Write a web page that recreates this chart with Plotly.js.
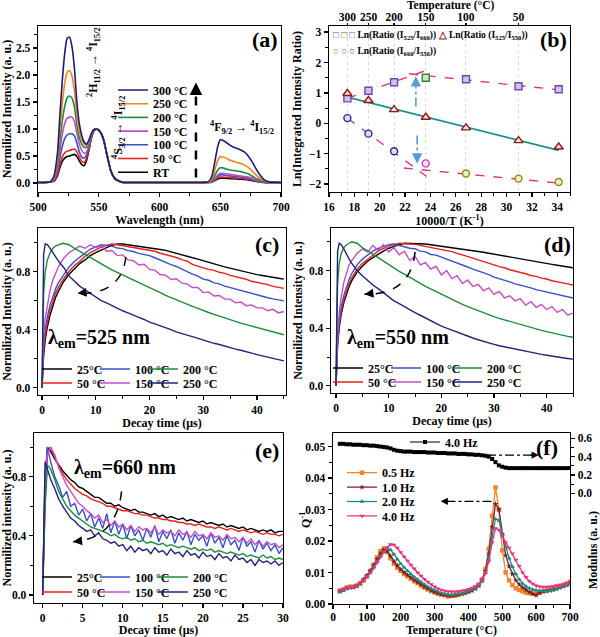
<!DOCTYPE html>
<html><head><meta charset="utf-8">
<script src="https://cdn.plot.ly/plotly-3.0.1.min.js"></script>
<style>body{margin:0;background:#fff}#g{width:600px;height:637px}</style>
</head><body><div id="g"></div>
<script>
// ---------- DATA ----------
// (a) emission spectra
const wl = [500,505,510,513,516,518,520,522,524,526,528,530,532,534,536,538,540,542,544,546,548,550,552,554,556,558,560,563,566,570,580,600,620,635,640,643,646,648,650,652,655,658,661,664,667,670,673,676,679,682,686,690,700];
const spec300 = [0.01,0.01,0.02,0.12,0.55,1.25,1.90,2.40,2.68,2.70,2.52,2.12,1.50,1.10,0.88,0.76,0.72,0.80,0.92,0.99,1.00,0.98,0.92,0.80,0.60,0.40,0.22,0.09,0.04,0.01,0.01,0.01,0.01,0.01,0.02,0.12,0.45,0.68,0.80,0.79,0.75,0.70,0.66,0.64,0.61,0.57,0.50,0.40,0.28,0.17,0.06,0.02,0.01];
const spec250 = [0.01,0.01,0.02,0.10,0.45,0.98,1.48,1.85,2.05,2.08,1.98,1.70,1.25,0.95,0.80,0.72,0.70,0.79,0.92,0.99,1.00,0.98,0.92,0.80,0.60,0.40,0.22,0.09,0.04,0.01,0.01,0.01,0.01,0.01,0.01,0.07,0.28,0.42,0.49,0.48,0.46,0.42,0.40,0.38,0.36,0.33,0.29,0.23,0.16,0.10,0.04,0.01,0.01];
const spec200 = [0.01,0.01,0.02,0.08,0.36,0.78,1.15,1.42,1.58,1.61,1.57,1.40,1.08,0.84,0.72,0.66,0.66,0.76,0.90,0.98,1.00,0.98,0.92,0.80,0.60,0.40,0.22,0.09,0.04,0.01,0.01,0.01,0.01,0.01,0.01,0.04,0.16,0.24,0.28,0.28,0.26,0.24,0.23,0.22,0.21,0.19,0.17,0.13,0.09,0.06,0.02,0.01,0.01];
const spec150 = [0.01,0.01,0.02,0.06,0.28,0.60,0.90,1.10,1.20,1.22,1.22,1.14,0.92,0.72,0.60,0.55,0.58,0.72,0.88,0.97,1.00,0.98,0.92,0.80,0.60,0.40,0.22,0.09,0.04,0.01,0.01,0.01,0.01,0.01,0.01,0.03,0.10,0.15,0.18,0.18,0.17,0.16,0.15,0.14,0.13,0.12,0.11,0.09,0.06,0.04,0.02,0.01,0.01];
const spec100 = [0.01,0.01,0.02,0.05,0.22,0.46,0.68,0.82,0.89,0.91,0.91,0.87,0.74,0.58,0.48,0.46,0.52,0.68,0.86,0.96,1.00,0.98,0.92,0.80,0.60,0.40,0.22,0.09,0.04,0.01,0.01,0.01,0.01,0.01,0.01,0.02,0.08,0.12,0.15,0.15,0.14,0.13,0.12,0.115,0.11,0.10,0.09,0.07,0.05,0.03,0.015,0.01,0.01];
const spec50 = [0.01,0.01,0.02,0.04,0.16,0.34,0.48,0.56,0.59,0.60,0.62,0.63,0.58,0.48,0.40,0.38,0.46,0.64,0.84,0.96,1.00,0.98,0.92,0.80,0.60,0.40,0.22,0.09,0.04,0.01,0.01,0.01,0.01,0.01,0.01,0.02,0.06,0.09,0.11,0.11,0.105,0.10,0.095,0.09,0.085,0.08,0.07,0.055,0.04,0.025,0.01,0.005,0.01];
const specRT = [0.01,0.01,0.02,0.03,0.13,0.28,0.40,0.46,0.49,0.50,0.52,0.53,0.49,0.41,0.34,0.32,0.42,0.62,0.83,0.96,1.00,0.98,0.92,0.80,0.60,0.40,0.22,0.09,0.04,0.01,0.01,0.01,0.01,0.01,0.01,0.015,0.05,0.075,0.09,0.09,0.085,0.08,0.078,0.075,0.07,0.065,0.058,0.045,0.032,0.02,0.01,0.005,0.01];
const specLabels = ['300 °C','250 °C','200 °C','150 °C','100 °C','50 °C','RT'];

// (b) intensity ratios
const bInvT = [17.45,19.11,21.13,23.63,26.80,30.94,34.11];
const bTempTicks = [300,250,200,150,100,50];
const bLn525_660 = [0.82,1.07,1.35,1.50,1.45,1.22,1.12];
const bLn525_550 = [0.98,0.75,0.45,0.20,-0.15,-0.57,-0.78];
const bLn660_550 = [0.17,-0.34,-0.92,-1.32,-1.65,-1.82,-1.93];
const bFitLinX = [17.45,34.11], bFitLinY = [0.86,-0.89];
const bFitUpLX = [17.45,23.6],  bFitUpLY = [0.82,1.73];
const bFitUpRX = [22.3,34.11],  bFitUpRY = [1.63,1.10];
const bFitLoLX = [17.45,23.7],  bFitLoLY = [0.17,-1.75];
const bFitLoRX = [21.9,34.11],  bFitLoRY = [-1.47,-1.97];

// (c),(d) decay curves
const tc = [0,0.3,0.6,1,1.5,2,2.5,3,3.5,4,5,6,7,8,9,10,11,12,13,14,15,16,17,18,19,20,21,22,23,24,25,26,27,28,29,30,31,32,33,34,35,36,37,38,39,40,41,42,43,44,45];
const c25 = [0,0.22,0.33,0.42,0.50,0.57,0.62,0.66,0.70,0.73,0.78,0.82,0.855,0.88,0.91,0.93,0.95,0.965,0.98,0.99,0.99,0.985,0.98,0.975,0.972,0.965,0.96,0.952,0.946,0.935,0.928,0.916,0.907,0.895,0.886,0.874,0.863,0.853,0.843,0.832,0.823,0.812,0.804,0.795,0.788,0.779,0.773,0.765,0.76,0.754,0.748];
const c50 = [0,0.27,0.36,0.45,0.53,0.60,0.65,0.69,0.72,0.75,0.80,0.84,0.87,0.905,0.93,0.95,0.968,0.98,0.99,0.985,0.978,0.972,0.968,0.958,0.953,0.945,0.94,0.926,0.918,0.905,0.897,0.882,0.872,0.85,0.835,0.825,0.815,0.808,0.795,0.788,0.774,0.766,0.753,0.747,0.733,0.726,0.714,0.71,0.698,0.692,0.684];
const c100 = [0,0.30,0.40,0.49,0.57,0.63,0.68,0.72,0.75,0.78,0.83,0.87,0.90,0.93,0.955,0.97,0.985,0.98,0.975,0.962,0.958,0.944,0.938,0.925,0.918,0.91,0.895,0.878,0.866,0.848,0.835,0.815,0.80,0.782,0.768,0.748,0.74,0.722,0.715,0.70,0.69,0.676,0.668,0.655,0.648,0.636,0.628,0.62,0.612,0.606,0.598];
const c150 = [0,0.35,0.48,0.58,0.67,0.74,0.79,0.83,0.86,0.89,0.93,0.95,0.975,0.96,0.985,0.965,0.975,0.94,0.945,0.91,0.915,0.88,0.875,0.845,0.85,0.815,0.81,0.78,0.775,0.745,0.75,0.72,0.715,0.69,0.69,0.655,0.66,0.632,0.635,0.61,0.61,0.585,0.59,0.565,0.57,0.55,0.55,0.53,0.54,0.515,0.525];
const c200 = [0,0.65,0.80,0.88,0.93,0.96,0.975,0.985,0.99,0.995,0.985,0.962,0.94,0.915,0.895,0.872,0.852,0.832,0.812,0.795,0.778,0.762,0.745,0.728,0.708,0.69,0.672,0.655,0.636,0.62,0.604,0.59,0.574,0.56,0.546,0.53,0.518,0.505,0.492,0.48,0.467,0.455,0.445,0.435,0.425,0.415,0.405,0.395,0.385,0.375,0.365];
const c250 = [0,0.92,0.99,0.985,0.96,0.93,0.90,0.875,0.85,0.83,0.77,0.735,0.70,0.675,0.65,0.625,0.60,0.585,0.565,0.548,0.53,0.515,0.498,0.485,0.47,0.452,0.44,0.428,0.412,0.40,0.385,0.376,0.362,0.352,0.34,0.328,0.318,0.306,0.298,0.286,0.278,0.266,0.258,0.246,0.238,0.228,0.22,0.21,0.20,0.192,0.185];
const d25 = [0,0.28,0.40,0.50,0.58,0.64,0.69,0.73,0.76,0.79,0.83,0.865,0.89,0.915,0.935,0.955,0.97,0.98,0.99,0.99,0.99,0.988,0.985,0.98,0.975,0.97,0.967,0.962,0.957,0.952,0.946,0.94,0.934,0.928,0.921,0.914,0.908,0.901,0.895,0.889,0.882,0.876,0.869,0.862,0.856,0.849,0.843,0.837,0.831,0.825,0.82];
const d50 = [0,0.30,0.42,0.52,0.60,0.66,0.71,0.75,0.78,0.81,0.85,0.88,0.91,0.935,0.955,0.97,0.98,0.99,0.99,0.985,0.982,0.975,0.97,0.965,0.958,0.95,0.94,0.932,0.92,0.91,0.898,0.887,0.874,0.864,0.85,0.84,0.828,0.82,0.806,0.798,0.786,0.778,0.766,0.76,0.748,0.742,0.73,0.724,0.714,0.708,0.70];
const d100 = [0,0.32,0.45,0.55,0.63,0.69,0.74,0.78,0.81,0.84,0.88,0.91,0.935,0.955,0.97,0.98,0.985,0.975,0.97,0.955,0.952,0.935,0.93,0.912,0.908,0.895,0.88,0.868,0.852,0.84,0.825,0.81,0.798,0.782,0.772,0.755,0.745,0.73,0.722,0.708,0.70,0.688,0.68,0.668,0.66,0.65,0.642,0.632,0.625,0.615,0.61];
const d150 = [0,0.36,0.50,0.62,0.72,0.79,0.84,0.87,0.90,0.92,0.95,0.93,0.975,0.94,0.98,0.93,0.96,0.91,0.935,0.87,0.90,0.84,0.855,0.81,0.83,0.77,0.80,0.745,0.765,0.71,0.735,0.69,0.705,0.66,0.68,0.635,0.655,0.61,0.625,0.59,0.605,0.56,0.585,0.545,0.565,0.53,0.55,0.51,0.53,0.49,0.505];
const d200 = [0,0.70,0.85,0.92,0.96,0.98,0.99,1.0,0.995,0.99,0.96,0.94,0.915,0.89,0.865,0.84,0.818,0.795,0.775,0.752,0.732,0.712,0.69,0.672,0.652,0.632,0.615,0.598,0.582,0.565,0.55,0.535,0.52,0.505,0.492,0.48,0.468,0.457,0.447,0.437,0.427,0.416,0.405,0.395,0.385,0.376,0.367,0.358,0.35,0.343,0.337];
const d250 = [0,0.93,0.99,0.98,0.95,0.91,0.88,0.85,0.82,0.80,0.765,0.73,0.70,0.675,0.645,0.615,0.59,0.57,0.548,0.528,0.508,0.49,0.47,0.452,0.435,0.415,0.40,0.386,0.37,0.356,0.343,0.332,0.32,0.308,0.298,0.288,0.278,0.27,0.262,0.254,0.246,0.238,0.232,0.225,0.218,0.212,0.205,0.20,0.195,0.19,0.185];

// (e) decay at 660 nm
const te = [0,0.3,0.6,1,1.5,2,2.5,3,3.5,4,4.5,5,5.5,6,6.5,7,7.5,8,8.5,9,9.5,10,10.5,11,11.5,12,12.5,13,13.5,14,14.5,15,15.5,16,16.5,17,17.5,18,18.5,19,19.5,20,20.5,21,21.5,22,22.5,23,23.5,24,24.5,25,25.5,26,26.5,27,27.5,28,28.5,29,29.5,30];
const e25 = [0,0.75,1.0,0.97,0.92,0.88,0.84,0.81,0.78,0.76,0.73,0.72,0.70,0.68,0.66,0.66,0.64,0.62,0.62,0.60,0.61,0.59,0.58,0.57,0.58,0.56,0.56,0.55,0.54,0.55,0.53,0.54,0.52,0.53,0.52,0.51,0.52,0.50,0.51,0.50,0.49,0.50,0.48,0.49,0.48,0.47,0.48,0.46,0.47,0.46,0.45,0.46,0.44,0.45,0.44,0.43,0.44,0.43,0.44,0.42,0.43,0.43];
const e50 = [0,0.60,0.95,1.0,0.93,0.87,0.82,0.78,0.75,0.72,0.70,0.68,0.67,0.65,0.64,0.63,0.62,0.60,0.60,0.59,0.58,0.57,0.57,0.56,0.55,0.55,0.54,0.54,0.53,0.52,0.52,0.51,0.51,0.50,0.50,0.49,0.49,0.48,0.48,0.47,0.48,0.47,0.46,0.46,0.45,0.46,0.45,0.44,0.45,0.44,0.43,0.44,0.43,0.42,0.43,0.42,0.41,0.42,0.41,0.41,0.40,0.41];
const e100 = [0,0.80,1.0,0.90,0.80,0.74,0.66,0.70,0.60,0.62,0.54,0.58,0.50,0.55,0.46,0.52,0.45,0.55,0.42,0.50,0.41,0.48,0.38,0.47,0.40,0.44,0.37,0.45,0.39,0.47,0.36,0.43,0.38,0.44,0.35,0.42,0.37,0.43,0.34,0.41,0.37,0.40,0.33,0.42,0.35,0.39,0.32,0.40,0.34,0.37,0.30,0.39,0.33,0.36,0.29,0.37,0.31,0.35,0.30,0.34,0.28,0.32];
const e150 = [0,0.70,0.95,1.0,0.95,0.86,0.80,0.74,0.70,0.66,0.62,0.60,0.57,0.55,0.52,0.54,0.49,0.51,0.47,0.50,0.46,0.48,0.44,0.47,0.43,0.46,0.44,0.45,0.42,0.46,0.41,0.44,0.42,0.43,0.40,0.44,0.41,0.42,0.39,0.43,0.40,0.41,0.38,0.42,0.39,0.40,0.37,0.41,0.38,0.39,0.36,0.39,0.35,0.38,0.34,0.37,0.33,0.36,0.34,0.35,0.32,0.34];
const e200 = [0,0.60,0.88,0.85,0.78,0.70,0.65,0.60,0.57,0.54,0.52,0.50,0.48,0.46,0.45,0.44,0.43,0.42,0.40,0.41,0.39,0.38,0.39,0.37,0.38,0.36,0.37,0.35,0.36,0.35,0.34,0.35,0.33,0.34,0.33,0.32,0.33,0.32,0.31,0.32,0.30,0.31,0.30,0.31,0.29,0.30,0.29,0.28,0.29,0.28,0.27,0.28,0.26,0.27,0.26,0.25,0.27,0.25,0.26,0.24,0.25,0.24];
const e250 = [0,0.90,0.85,0.78,0.72,0.65,0.60,0.56,0.52,0.50,0.47,0.45,0.43,0.44,0.40,0.42,0.38,0.37,0.35,0.36,0.33,0.34,0.30,0.33,0.29,0.32,0.30,0.31,0.28,0.32,0.29,0.30,0.27,0.31,0.28,0.29,0.26,0.30,0.27,0.28,0.25,0.29,0.26,0.27,0.24,0.28,0.25,0.26,0.23,0.27,0.24,0.25,0.22,0.24,0.20,0.24,0.22,0.23,0.21,0.23,0.20,0.22];
const decayLabels = ['25°C','50 °C','100 °C','150 °C','200 °C','250 °C'];

// (f) internal friction
const fT = [20,30,40,50,60,70,80,90,100,110,120,130,140,150,160,170,180,190,200,210,220,230,240,250,260,270,280,290,300,310,320,330,340,350,360,370,380,390,400,410,420,430,440,450,460,470,480,490,500,510,520,530,540,550,560,570,580,590,600,610,620,630,640,650,660,670,680,690,700];
const fQ05 = [.0042,.0045,.0052,.0055,.0055,.0058,.0065,.0075,.0088,.0105,.0125,.0148,.0168,.0176,.0165,.0145,.0128,.0115,.0105,.0095,.0088,.0080,.0072,.0066,.0058,.0052,.0046,.0041,.0037,.0033,.0030,.0028,.0024,.0026,.0027,.0030,.0033,.0036,.0040,.0044,.0050,.0060,.0078,.0110,.0175,.0280,.0370,.0300,.0170,.0100,.0075,.0060,.0050,.0045,.0040,.0036,.0034,.0033,.0035,.0036,.0040,.0042,.0045,.0050,.0055,.0058,.0060,.0065,.0070];
const fQ10 = [.0040,.0045,.0050,.0052,.0053,.0058,.0066,.0078,.0090,.0105,.0122,.0142,.0160,.0172,.0168,.0152,.0135,.0122,.0110,.0100,.0092,.0084,.0076,.0069,.0062,.0055,.0049,.0043,.0038,.0034,.0031,.0029,.0027,.0026,.0027,.0029,.0032,.0035,.0039,.0043,.0049,.0058,.0075,.0105,.0160,.0245,.0318,.0300,.0220,.0155,.0120,.0095,.0075,.0062,.0052,.0045,.0038,.0032,.0028,.0035,.0040,.0042,.0043,.0045,.0048,.0052,.0056,.0060,.0064];
const fQ20 = [.0038,.0043,.0048,.0051,.0052,.0056,.0064,.0075,.0087,.0101,.0117,.0135,.0152,.0166,.0176,.0172,.0158,.0142,.0128,.0116,.0105,.0095,.0086,.0078,.0070,.0062,.0055,.0049,.0044,.0039,.0035,.0032,.0030,.0029,.0030,.0032,.0034,.0037,.0041,.0045,.0050,.0058,.0072,.0098,.0145,.0215,.0270,.0265,.0225,.0180,.0145,.0118,.0095,.0078,.0065,.0056,.0050,.0046,.0044,.0042,.0041,.0041,.0042,.0044,.0047,.0052,.0056,.0060,.0064];
const fQ40 = [.0045,.0047,.0050,.0052,.0054,.0058,.0065,.0075,.0086,.0099,.0114,.0131,.0149,.0165,.0180,.0189,.0188,.0178,.0164,.0150,.0137,.0124,.0112,.0100,.0089,.0079,.0070,.0062,.0055,.0049,.0045,.0042,.0040,.0039,.0039,.0040,.0042,.0044,.0047,.0051,.0056,.0064,.0077,.0098,.0135,.0195,.0240,.0235,.0215,.0195,.0178,.0160,.0140,.0120,.0100,.0085,.0072,.0064,.0058,.0055,.0054,.0054,.0055,.0056,.0058,.0060,.0063,.0066,.0070];
const fMod = [.54,.54,.535,.535,.53,.53,.53,.525,.525,.52,.52,.515,.51,.505,.50,.49,.475,.465,.46,.455,.455,.455,.45,.45,.45,.45,.445,.445,.445,.44,.44,.44,.435,.435,.435,.43,.43,.43,.425,.425,.42,.42,.415,.41,.40,.375,.34,.305,.29,.28,.275,.275,.275,.275,.275,.275,.275,.275,.275,.275,.275,.275,.275,.275,.275,.275,.275,.275,.275];
const fLabels = ['0.5 Hz','1.0 Hz','2.0 Hz','4.0 Hz'];

// ---------- STYLE ----------
const F = 'Liberation Serif';
const W = 600, H = 637;
const px = p => p / W, py = p => 1 - p / H;
const font = (s) => ({family: F, size: s, weight: 'bold', color: '#000'});
function T(text, standoff) { return {text: text, font: font(12), standoff: standoff}; }
const mnr = (o) => Object.assign({ticks: 'outside', ticklen: 2.5, tickwidth: 1, tickcolor: '#000'}, o);
function ax(o) {
  return Object.assign({showline: true, linecolor: '#000', linewidth: 1.4, mirror: true,
    ticks: 'outside', ticklen: 4, tickwidth: 1.3, tickcolor: '#000', showgrid: false, zeroline: false,
    tickfont: font(11.5), automargin: false}, o);
}
const layout = {
  width: W, height: H, margin: {l: 0, r: 0, t: 0, b: 0}, paper_bgcolor: '#fff', plot_bgcolor: '#fff',
  font: {family: F, color: '#000'}, showlegend: true,
  xaxis: ax({domain: [px(38), px(281)], range: [500, 700], anchor: 'y', dtick: 50, minor: mnr({dtick: 25}), title: T('Wavelength (nm)', 2)}),
  yaxis: ax({domain: [py(192), py(26)], range: [-0.167, 2.907], anchor: 'x', dtick: 0.5, tickformat: '.1f', minor: mnr({dtick: 0.25}), title: T('Normilized Intensity (a. u.)', 3)}),
  xaxis2: ax({domain: [px(329), px(570)], range: [16, 35], anchor: 'y2', dtick: 2, minor: mnr({dtick: 1}), title: T('10000/T (K<sup>-1</sup>)', 2)}),
  yaxis2: ax({domain: [py(192), py(26)], range: [-2.26, 3.2], anchor: 'x2', dtick: 1, minor: mnr({dtick: 0.5}), title: T('Ln(Integrated Intensity Ratio)', 4)}),
  xaxis7: ax({overlaying: 'x2', anchor: 'y2', side: 'top', range: [16, 35], mirror: false, ticklen: 2, ticklabelstandoff: -3,
    tickmode: 'array', tickvals: bTempTicks.map(c => 10000 / (c + 273.15)), ticktext: bTempTicks.map(String),
    showgrid: true, gridcolor: '#d9d9d9', griddash: 'dot', gridwidth: 1}),
  xaxis3: ax({domain: [px(38), px(286)], range: [-0.75, 45.4], anchor: 'y3', dtick: 10, minor: mnr({dtick: 5}), title: T('Decay time (μs)', 2)}),
  yaxis3: ax({domain: [py(395), py(228)], range: [-0.05, 1.10], anchor: 'x3', dtick: 0.4, tickformat: '.1f', minor: mnr({dtick: 0.2}), title: T('Normilized Intensity (a. u.)', 3)}),
  xaxis4: ax({domain: [px(331), px(573)], range: [-0.95, 45], anchor: 'y4', dtick: 10, minor: mnr({dtick: 5}), title: T('Decay time (μs)', 2)}),
  yaxis4: ax({domain: [py(393), py(228)], range: [-0.05, 1.096], anchor: 'x4', dtick: 0.4, tickformat: '.1f', minor: mnr({dtick: 0.2}), title: T('Normilized Intensity (a. u.)', 3)}),
  xaxis5: ax({domain: [px(34), px(283)], range: [-1.08, 30], anchor: 'y5', dtick: 5, minor: mnr({dtick: 2.5}), title: T('Decay time (μs)', 2)}),
  yaxis5: ax({domain: [py(603), py(433)], range: [-0.054, 1.095], anchor: 'x5', dtick: 0.4, tickformat: '.1f', minor: mnr({dtick: 0.2}), title: T('Normilized intensity (a. u.)', 3)}),
  xaxis6: ax({domain: [px(333), px(570)], range: [0, 700], anchor: 'y6', dtick: 100, ticklabelstandoff: -2, minor: mnr({dtick: 50}), title: T('Temperature (°C)', 4)}),
  yaxis6: ax({domain: [py(604), py(433)], range: [0, 0.0543], anchor: 'x6', dtick: 0.01, tickformat: '.2f', mirror: false, minor: mnr({dtick: 0.005})}),
  yaxis8: ax({overlaying: 'y6', anchor: 'x6', side: 'right', range: [-1.207, 0.658], mirror: false,
    tickmode: 'array', tickvals: [0, 0.2, 0.4, 0.6], ticktext: ['0.0', '0.2', '0.4', '0.6'], minor: mnr({tickmode: 'array', tickvals: [0.1, 0.3, 0.5]})}),
  annotations: [], shapes: []
};

// legends: one per entry so spacing matches
let nLeg = 0;
function leg(textLeft, cy) {
  nLeg++;
  const key = nLeg === 1 ? 'legend' : 'legend' + nLeg;
  layout[key] = {x: px(textLeft - 40), xanchor: 'left', y: py(cy), yanchor: 'middle',
    bgcolor: 'rgba(0,0,0,0)', borderwidth: 0, font: font(12), itemclick: false, itemdoubleclick: false};
  return key;
}

const traces = [];
// (a)
const specSeries = [spec300, spec250, spec200, spec150, spec100, spec50, specRT];
const specColors = ['#1c1c78', '#f5821f', '#1a8a3a', '#c24ec2', '#3552c8', '#e32222', '#000000'];
for (let i = specSeries.length - 1; i >= 0; i--) {
  traces.push({type: 'scatter', mode: 'lines', x: wl, y: specSeries[i], xaxis: 'x', yaxis: 'y',
    name: specLabels[i], line: {color: specColors[i], width: 1.6, shape: 'spline', smoothing: 0.6},
    legend: leg(153, 90 + i * 13.7)});
}

// (b)
const bx = 'x2', by = 'y2';
// invisible trace so the top temperature axis is drawn
traces.push({type: 'scatter', mode: 'markers', x: bInvT, y: bLn525_550, xaxis: 'x7', yaxis: by, showlegend: false, marker: {opacity: 0}, hoverinfo: 'skip'});
function fit(x, y, color, dash, w) { traces.push({type: 'scatter', mode: 'lines', x: x, y: y, xaxis: bx, yaxis: by, showlegend: false, line: {color: color, dash: dash, width: w}}); }
fit(bFitLinX, bFitLinY, '#17918a', 'solid', 1.6);
fit(bFitUpLX, bFitUpLY, '#e0307a', 'dash', 1.4);
fit(bFitUpRX, bFitUpRY, '#e0307a', 'dash', 1.4);
fit(bFitLoLX, bFitLoLY, '#e0307a', 'dash', 1.4);
fit(bFitLoRX, bFitLoRY, '#e0307a', 'dash', 1.4);
traces.push({type: 'scatter', mode: 'markers', x: bInvT, y: bLn525_660, xaxis: bx, yaxis: by, showlegend: false,
  marker: {symbol: 'square', size: 7, color: ['#cfc3ec','#cfc3ec','#cfc3ec','#c8e6c8','#cfc3ec','#cfc3ec','#cfc3ec'],
    line: {width: 1.4, color: ['#6a4aaf','#6a4aaf','#6a4aaf','#2f8a2f','#6a4aaf','#6a4aaf','#6a4aaf']}}});
traces.push({type: 'scatter', mode: 'markers', x: bInvT, y: bLn525_550, xaxis: bx, yaxis: by, showlegend: false,
  marker: {symbol: 'triangle-up', size: 8, color: '#f4dede', line: {width: 1.4, color: '#8b1a1a'}}});
traces.push({type: 'scatter', mode: 'markers', x: bInvT, y: bLn660_550, xaxis: bx, yaxis: by, showlegend: false,
  marker: {symbol: 'circle', size: 7, color: ['#dcdcf0','#dcdcf0','#dcdcf0','#f6e0f6','#ececc8','#ececc8','#ececc8'],
    line: {width: 1.4, color: ['#2a2a8a','#2a2a8a','#2a2a8a','#c040c0','#8a8a1a','#8a8a1a','#8a8a1a']}}});

// decay panels
const decayColors = ['#000000', '#e8201c', '#3a50c8', '#c44ec4', '#1e8c3a', '#23237e'];
function decay(t, series, xa, ya, colsX, rowsY) {
  series.forEach((s, i) => {
    traces.push({type: 'scatter', mode: 'lines', x: t, y: s, xaxis: xa, yaxis: ya, name: decayLabels[i],
      line: {color: decayColors[i], width: 1.4}, legend: leg(colsX[Math.floor(i / 2)], rowsY[i % 2])});
  });
}
decay(tc, [c25, c50, c100, c150, c200, c250], 'x3', 'y3', [77, 135, 183], [369, 383]);
decay(tc, [d25, d50, d100, d150, d200, d250], 'x4', 'y4', [368, 426, 487], [368, 382]);
decay(te, [e25, e50, e100, e150, e200, e250], 'x5', 'y5', [77, 135, 193], [577, 592]);

// (f)
traces.push({type: 'scatter', mode: 'lines+markers', x: fT, y: fMod, xaxis: 'x6', yaxis: 'y8', name: '4.0 Hz',
  line: {color: '#000', width: 1.2}, marker: {symbol: 'square', size: 4, color: '#000'}, legend: leg(445, 442)});
const fSeries = [fQ05, fQ10, fQ20, fQ40];
const fColors = ['#f0842a', '#7a1f25', '#1e8a86', '#e8337e'];
const fSymbols = ['square', 'star', 'triangle-up', 'triangle-down'];
fSeries.forEach((s, i) => {
  traces.push({type: 'scatter', mode: 'lines+markers', x: fT, y: s, xaxis: 'x6', yaxis: 'y6', name: fLabels[i],
    line: {color: fColors[i], width: 1.3}, marker: {symbol: fSymbols[i], size: 4.5, color: fColors[i]},
    legend: leg(382, 472.7 + i * 14.4)});
});

// ---------- ANNOTATIONS / SHAPES ----------
const A = layout.annotations, S = layout.shapes;
function lab(t, x, y, s, ang) {
  A.push({text: t, xref: 'paper', yref: 'paper', x: px(x), y: py(y), showarrow: false, font: font(s),
    xanchor: 'center', yanchor: 'middle', textangle: ang || 0});
}
lab('(a)', 265, 40, 22); lab('(b)', 553, 40, 22); lab('(c)', 267, 245, 22);
lab('(d)', 557, 245, 22); lab('(e)', 267, 450, 22); lab('(f)', 547, 447, 22);
lab('Temperature (°C)', 450, 5, 11.5);
lab('<sup>2</sup>H<sub>11/2</sub> → <sup>4</sup>I<sub>15/2</sub>', 94, 62, 12, -90);
lab('<sup>4</sup>S<sub>3/2</sub> → <sup>4</sup>I<sub>15/2</sub>', 119, 128, 12, -90);
lab('<sup>4</sup>F<sub>9/2</sub> → <sup>4</sup>I<sub>15/2</sub>', 242, 128, 12);
lab('Modulus (a. u.)', 593, 550, 12, -90);
lab('Q<sup>-1</sup>', 305, 520, 12, -90);
// (a) dashed arrow
S.push({type: 'line', xref: 'x', yref: 'y', x0: 630, x1: 630, y0: 0.1, y1: 1.7, line: {color: '#000', width: 2.5, dash: 'dash'}});
A.push({xref: 'x', yref: 'y', x: 630, y: 1.86, ax: 0, ay: 14, text: '', showarrow: true, arrowhead: 2, arrowsize: 1, arrowwidth: 2.5, arrowcolor: '#000'});
// (b) legend text
A.push({text: '<span style="color:#3552c8">□</span> <span style="color:#2f8a2f">□</span> <span style="color:#7a4ab8">□</span> Ln(Ratio (I<sub>525</sub>/I<sub>660</sub>)) <span style="color:#8b1a1a">△</span> Ln(Ratio (I<sub>525</sub>/I<sub>550</sub>))', xref: 'paper', yref: 'paper', x: px(331), y: py(35), xanchor: 'left', yanchor: 'middle', showarrow: false, font: font(9.5)});
A.push({text: '<span style="color:#8a8a1a">○</span> <span style="color:#c040c0">○</span> <span style="color:#2a2a8a">○</span> Ln(Ratio (I<sub>660</sub>/I<sub>550</sub>))', xref: 'paper', yref: 'paper', x: px(331), y: py(52), xanchor: 'left', yanchor: 'middle', showarrow: false, font: font(9.5)});
// (b) blue dash-dot arrows
S.push({type: 'line', xref: 'x2', yref: 'y2', x0: 22.85, x1: 22.85, y0: 0.55, y1: 1.35, line: {color: '#5b9bd5', width: 1.6, dash: 'dashdot'}});
A.push({xref: 'x2', yref: 'y2', x: 22.85, y: 1.55, ax: 0, ay: 10, text: '', showarrow: true, arrowhead: 2, arrowsize: 1.3, arrowwidth: 1.6, arrowcolor: '#5b9bd5'});
S.push({type: 'line', xref: 'x2', yref: 'y2', x0: 22.95, x1: 22.95, y0: -0.4, y1: -1.15, line: {color: '#5b9bd5', width: 1.6, dash: 'dashdot'}});
A.push({xref: 'x2', yref: 'y2', x: 22.95, y: -1.33, ax: 0, ay: -10, text: '', showarrow: true, arrowhead: 2, arrowsize: 1.3, arrowwidth: 1.6, arrowcolor: '#5b9bd5'});
// (c),(d),(e) lambda labels and curved arrows
lab('λ<sub>em</sub>=525 nm', 99, 338, 20);
lab('λ<sub>em</sub>=550 nm', 398, 338, 20);
lab('λ<sub>em</sub>=660 nm', 125, 468, 20);
function curve(xa, ya, x0, y0, cx, cy, x1, y1) {
  S.push({type: 'path', xref: xa, yref: ya, path: `M ${x0},${y0} Q ${cx},${cy} ${x1},${y1}`, line: {color: '#000', width: 1.5, dash: 'dash'}});
  A.push({xref: xa, yref: ya, x: x1, y: y1, ax: 9, ay: -1, text: '', showarrow: true, arrowhead: 2, arrowsize: 1.2, arrowwidth: 1.5, arrowcolor: '#000'});
}
curve('x3', 'y3', 15.6, 0.90, 14.8, 0.64, 6.6, 0.65);
curve('x4', 'y4', 15.0, 0.93, 14.2, 0.63, 5.4, 0.636);
curve('x5', 'y5', 9.85, 0.70, 9.2, 0.38, 3.8, 0.36);
// (f) dash-dot arrows
S.push({type: 'line', xref: 'x6', yref: 'y6', x0: 455, x1: 595, y0: 0.0473, y1: 0.0473, line: {color: '#000', width: 1.2, dash: 'dashdot'}});
A.push({xref: 'x6', yref: 'y6', x: 608, y: 0.0473, ax: -10, ay: 0, text: '', showarrow: true, arrowhead: 2, arrowsize: 1.2, arrowwidth: 1.2, arrowcolor: '#000'});
S.push({type: 'line', xref: 'x6', yref: 'y6', x0: 468, x1: 335, y0: 0.0326, y1: 0.0326, line: {color: '#000', width: 1.2, dash: 'dashdot'}});
A.push({xref: 'x6', yref: 'y6', x: 318, y: 0.0326, ax: 10, ay: 0, text: '', showarrow: true, arrowhead: 2, arrowsize: 1.2, arrowwidth: 1.2, arrowcolor: '#000'});

Plotly.newPlot('g', traces, layout, {displayModeBar: false, staticPlot: true});
</script></body></html>
